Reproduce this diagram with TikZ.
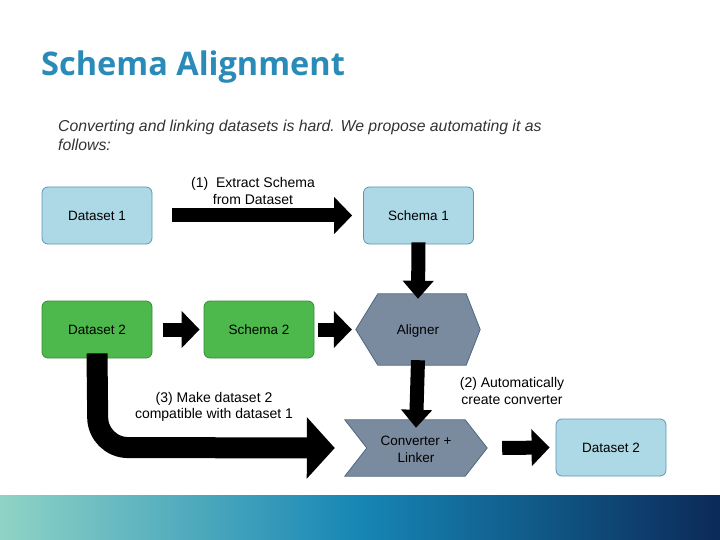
\documentclass[tikz,border=0pt]{standalone}
\usepackage{fontspec}
\setmainfont{Liberation Sans}
\newfontfamily\titlefont{Open Sans}
\usetikzlibrary{arrows.meta}
\definecolor{lb}{HTML}{ADD8E6}
\definecolor{lbb}{HTML}{5E95B5}
\definecolor{gr}{HTML}{4DB84B}
\definecolor{grb}{HTML}{3A8A3A}
\definecolor{gy}{HTML}{7A8BA0}
\definecolor{gyb}{HTML}{4E6880}
\definecolor{ttl}{HTML}{2A8AB8}
\definecolor{bl}{HTML}{8FD3C6}
\definecolor{bm}{HTML}{1686B5}
\definecolor{br}{HTML}{0B2A58}
\begin{document}
\begin{tikzpicture}[x=1pt,y=-1pt,
  box/.style={rounded corners=6pt,draw=#1,line width=0.8pt,minimum width=110pt,minimum height=57pt,font=\fontsize{13.5}{15}\selectfont},
  lbl/.style={font=\fontsize{14}{16.5}\selectfont,align=center},
  blk/.style={line width=14pt,-{Triangle[width=36pt,length=18pt]},shorten >=0pt},
  blkv/.style={line width=14pt,-{Triangle[width=30pt,length=18pt]}}]
\useasboundingbox (0,0) rectangle (720,540);
\shade[left color=bl, right color=br, middle color=bm] (0,495) rectangle (720,540);
\node[anchor=west,font=\titlefont\bfseries\fontsize{32.5}{36}\selectfont,text=ttl,inner sep=0pt] (title) at (41,67) {Schema Alignment};
\node[anchor=north west,align=left,font=\itshape\fontsize{15.8}{19}\selectfont,text=black!80,inner sep=0pt] (sub) at (58,120) {Converting and linking datasets is hard. We propose automating it as\\follows:};
\node[box=lbb,fill=lb] (d1) at (97,215.5) {Dataset 1};
\node[box=lbb,fill=lb] (s1) at (418.5,215.5) {Schema 1};
\node[box=grb,fill=gr] (d2) at (97,329.5) {Dataset 2};
\node[box=grb,fill=gr] (s2) at (259,329.5) {Schema 2};
\node[minimum width=124pt,minimum height=71pt] (al) at (418,329.5) {};
\fill[gy,draw=gyb,line width=0.8pt] (al.west) -- ([xshift=22pt]al.north west) -- ([xshift=-14pt]al.north east) -- (al.east) -- ([xshift=-14pt]al.south east) -- ([xshift=22pt]al.south west) -- cycle;
\node[font=\fontsize{13.5}{15}\selectfont] at ([yshift=-1.5pt]al) {Aligner};
\node[minimum width=142pt,minimum height=56pt] (cv) at (416,448) {};
\fill[gy,draw=gyb,line width=0.8pt] (cv.north west) -- ([xshift=-22pt]cv.north east) -- (cv.east) -- ([xshift=-22pt]cv.south east) -- (cv.south west) -- ([xshift=22pt]cv.west) -- cycle;
\node[align=center,font=\fontsize{13.5}{17}\selectfont] at ([yshift=-1.5pt]cv) {Converter +\\Linker};
\node[box=lbb,fill=lb] (d3) at (611,447.5) {Dataset 2};
\draw[blk] ([xshift=20pt]d1.east) -- ([xshift=-11pt]s1.west);
\draw[blk] ([xshift=11pt]d2.east) -- ([xshift=-4pt]s2.west);
\draw[blk] ([xshift=4pt]s2.east) -- ([xshift=-4pt]al.west);
\draw[blkv] ([yshift=2pt]s1.south) -- ([yshift=-5pt]al.north);
\draw[blkv] ([yshift=5pt]al.south) -- ([yshift=-8pt]cv.north);
\draw[blk] ([xshift=15pt]cv.east) -- ([xshift=-6pt]d3.west);
\coordinate (bend) at (98,447.5);
\draw[line width=21pt,rounded corners=30pt,-{Triangle[width=60pt,length=28pt]}] ([yshift=5pt]d2.south) -- (bend) -- ([xshift=-10pt]cv.west);
\node[lbl] at (253,191) {(1)\ \ Extract Schema\\from Dataset};
\node[lbl] at (512,391) {(2) Automatically\\create converter};
\node[lbl] at (214,407) {(3) Make dataset 2\\compatible with dataset 1};
\end{tikzpicture}
\end{document}
